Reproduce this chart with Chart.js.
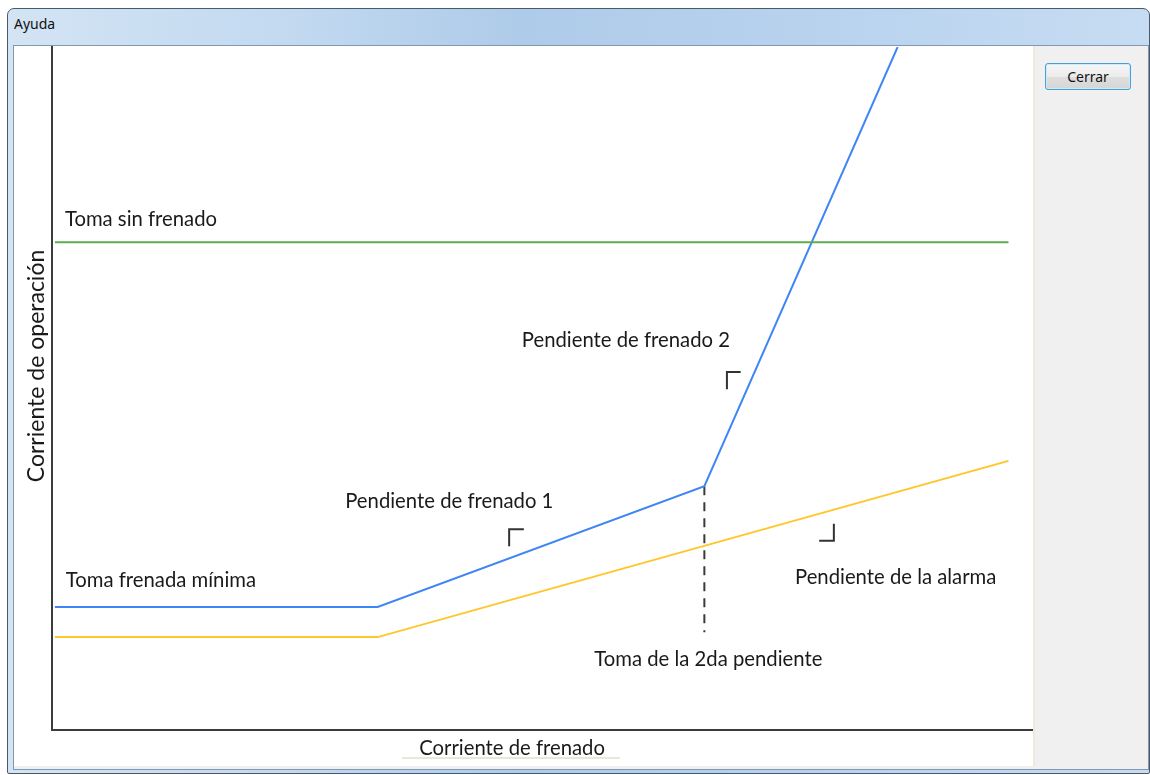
<!DOCTYPE html>
<html>
<head>
<meta charset="utf-8">
<script src="https://cdn.jsdelivr.net/npm/chart.js@4"></script>
<style>
  html, body { margin: 0; padding: 0; background: #fff; width: 1150px; height: 775px; overflow: hidden; }
  #win {
    position: absolute; left: 7px; top: 8px; width: 1141px; height: 764px;
    border: 1px solid #4a5a6a; border-radius: 7px 7px 2px 2px;
    background: linear-gradient(to right, #d3e4f4 0%, #c2d9f0 25%, #aecbe9 45%, #b8d2ee 70%, #c6dcf2 100%);
  }
  #title { position: absolute; left: 14px; top: 14px; font: 14px "Noto Sans", sans-serif; color: #111; }
  #client {
    position: absolute; left: 13px; top: 45px; width: 1134px; height: 723px;
    background: #f0f0f0; border: 1px solid #8198b4;
  }
  #panel { position: absolute; left: 14px; top: 46px; width: 1019px; height: 720px; background: #fff; border-right: 2px solid #efeadb; }
  #chart { position: absolute; left: 14px; top: 46px; }
  #cerrar {
    position: absolute; left: 1045px; top: 63px; width: 84px; height: 25px;
    border: 1px solid #4aa0d4; border-radius: 3px;
    background: linear-gradient(#f6f6f6, #ececec 50%, #dedede 51%, #d6d6d6);
    box-shadow: inset 0 0 0 1px #c8ecfb;
    font: 14px "Noto Sans", sans-serif; color: #111; text-align: center; line-height: 25px;
  }
  #under { position: absolute; left: 402px; top: 757px; width: 218px; height: 2px; background: #ebe7d6; }
</style>
</head>
<body>
<div id="win"></div>
<div id="title">Ayuda</div>
<div id="client"></div>
<div id="panel"></div>
<div id="under"></div>
<canvas id="chart" width="1019" height="720"></canvas>
<div id="cerrar">Cerrar</div>
<script>
// diagram coordinates, 0..100 on both axes
const tomaSinFrenadoX = [0.3, 97.5];
const tomaSinFrenadoY = [71.4, 71.4];

const disparoX = [0.3, 33.2, 66.5, 86.2];
const disparoY = [18.0, 18.0, 35.7, 100];

const alarmaX = [0.3, 33.2, 97.5];
const alarmaY = [13.6, 13.6, 39.4];

const segundaTomaX = [66.5, 66.5];
const segundaTomaY = [35.7, 14.3];

// small slope marks
const marca1X = [48.1, 46.6, 46.6];
const marca1Y = [29.4, 29.4, 26.9];
const marca2X = [70.2, 68.8, 68.8];
const marca2Y = [52.4, 52.4, 49.9];
const marca3X = [78.2, 79.7, 79.7];
const marca3Y = [27.7, 27.7, 30.2];

const etiquetas = ['Toma sin frenado', 'Toma frenada mínima', 'Pendiente de frenado 1',
                   'Pendiente de frenado 2', 'Pendiente de la alarma', 'Toma de la 2da pendiente'];
const etiquetasX = [9.07, 11.1, 40.5, 58.5, 86.0, 66.9];
const etiquetasY = [74.7, 21.96, 33.5, 57.1, 22.4, 10.4];

const tituloX = 'Corriente de frenado';
const tituloY = 'Corriente de operación';

function puntos(xs, ys) {
    return xs.map((x, i) => ({ x: x, y: ys[i] }));
}

function serie(xs, ys, color, extra) {
    return Object.assign({
        data: puntos(xs, ys),
        borderColor: color,
        borderWidth: 2,
        pointRadius: 0,
        fill: false,
        tension: 0
    }, extra || {});
}

const textos = {
    id: 'textos',
    afterDatasetsDraw(chart) {
        const ctx = chart.ctx;
        const sx = chart.scales.x, sy = chart.scales.y;
        const area = chart.chartArea;
        ctx.save();
        ctx.fillStyle = '#1a1a1a';
        ctx.font = '20.3px Lato, "Open Sans", sans-serif';
        ctx.textAlign = 'center';
        ctx.textBaseline = 'middle';
        for (let i = 0; i < etiquetas.length; i++) {
            ctx.fillText(etiquetas[i], sx.getPixelForValue(etiquetasX[i]), sy.getPixelForValue(etiquetasY[i]));
        }
        // axis titles
        ctx.fillText(tituloX, sx.getPixelForValue(46.9), area.bottom + 18);
        ctx.font = '23px Lato, "Open Sans", sans-serif';
        ctx.translate(area.left - 15, sy.getPixelForValue(53.3));
        ctx.rotate(-Math.PI / 2);
        ctx.fillText(tituloY, 0, 0);
        ctx.restore();
    }
};

new Chart(document.getElementById('chart'), {
    type: 'line',
    data: {
        datasets: [
            serie(tomaSinFrenadoX, tomaSinFrenadoY, '#5aaf4c'),
            serie(alarmaX, alarmaY, '#ffc629'),
            serie(disparoX, disparoY, '#3f86f4'),
            serie(segundaTomaX, segundaTomaY, '#3a3a3a', { borderDash: [9, 7] }),
            serie(marca1X, marca1Y, '#333'),
            serie(marca2X, marca2Y, '#333'),
            serie(marca3X, marca3Y, '#333')
        ]
    },
    options: {
        responsive: false,
        animation: false,
        layout: { padding: { left: 38, top: 1, right: 0, bottom: 36 } },
        scales: {
            x: {
                type: 'linear', min: 0, max: 100,
                grid: { display: false, drawTicks: false, tickLength: 0 },
                ticks: { display: false, padding: 0 },
                border: { display: true, color: '#3c3c3c', width: 2 }
            },
            y: {
                type: 'linear', min: 0, max: 100,
                grid: { display: false, drawTicks: false, tickLength: 0 },
                ticks: { display: false, padding: 0 },
                border: { display: true, color: '#3c3c3c', width: 2 }
            }
        },
        plugins: {
            legend: { display: false },
            tooltip: { enabled: false }
        }
    },
    plugins: [textos]
});
</script>
</body>
</html>
